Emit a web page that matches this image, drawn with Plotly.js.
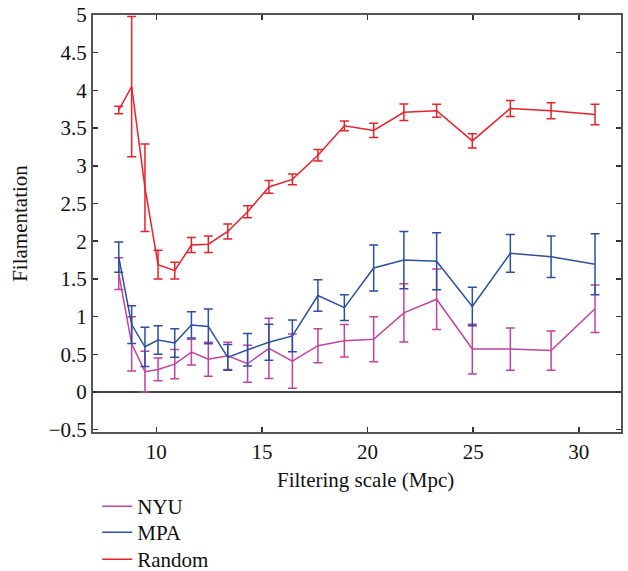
<!DOCTYPE html>
<html>
<head>
<meta charset="utf-8">
<script src="https://cdn.plot.ly/plotly-3.0.1.min.js"></script>
<style>html,body{margin:0;padding:0;background:#fff;}#chart{width:628px;height:571px;}</style>
</head>
<body>
<div id="chart"></div>
<script>
// Filtering scale (Mpc)
const scale = [8.22, 8.83, 9.46, 10.08, 10.87, 11.66, 12.46, 13.38, 14.32, 15.33, 16.44, 17.65, 18.90, 20.29, 21.72, 23.27, 24.96, 26.76, 28.69, 30.77];

const nyuValues = [1.57, 0.64, 0.27, 0.30, 0.37, 0.53, 0.435, 0.48, 0.375, 0.58, 0.41, 0.615, 0.68, 0.70, 1.05, 1.23, 0.57, 0.57, 0.55, 1.105];
const nyuErrors = [0.21, 0.36, 0.27, 0.15, 0.195, 0.17, 0.225, 0.18, 0.245, 0.40, 0.36, 0.225, 0.215, 0.30, 0.387, 0.40, 0.33, 0.28, 0.26, 0.315];

const mpaValues = [1.79, 0.895, 0.60, 0.69, 0.65, 0.89, 0.87, 0.46, 0.56, 0.66, 0.745, 1.28, 1.12, 1.645, 1.75, 1.735, 1.135, 1.84, 1.795, 1.695];
const mpaErrors = [0.20, 0.25, 0.26, 0.19, 0.19, 0.175, 0.23, 0.17, 0.215, 0.24, 0.21, 0.21, 0.17, 0.305, 0.38, 0.377, 0.255, 0.25, 0.275, 0.405];

const randomValues = [3.74, 4.05, 2.71, 1.69, 1.61, 1.95, 1.96, 2.13, 2.39, 2.72, 2.82, 3.14, 3.53, 3.47, 3.71, 3.73, 3.33, 3.76, 3.73, 3.68];
const randomErrors = [0.05, 0.93, 0.58, 0.19, 0.11, 0.10, 0.11, 0.10, 0.08, 0.085, 0.07, 0.075, 0.065, 0.095, 0.11, 0.085, 0.095, 0.105, 0.105, 0.135];

const seriesNames = ["NYU", "MPA", "Random"];
const colors = ["#c2429f", "#2b4ea6", "#ea2129"];
const legendIds = ["legend", "legend2", "legend3"];
const legendY = [-0.1295, -0.1918, -0.2566];

const allValues = [nyuValues, mpaValues, randomValues];
const allErrors = [nyuErrors, mpaErrors, randomErrors];

const traces = seriesNames.map((name, i) => ({
  type: "scatter",
  mode: "lines",
  name: name,
  legend: legendIds[i],
  x: scale,
  y: allValues[i],
  line: {color: colors[i], width: 1.5},
  error_y: {type: "data", array: allErrors[i], visible: true, color: colors[i], thickness: 1.5, width: 4.5}
}));

const font = "Liberation Serif, Times New Roman, serif";

function makeLegend(y) {
  return {
    x: 0.008, xanchor: "left",
    y: y, yanchor: "top",
    orientation: "v",
    font: {family: font, size: 21, color: "#111"},
    bgcolor: "rgba(0,0,0,0)",
    itemwidth: 30
  };
}

const layout = {
  width: 628,
  height: 571,
  margin: {l: 93, r: 7, t: 15, b: 139, autoexpand: false},
  paper_bgcolor: "#fff",
  plot_bgcolor: "#fff",
  font: {family: font, size: 21, color: "#111"},
  showlegend: true,
  legend: makeLegend(legendY[0]),
  legend2: makeLegend(legendY[1]),
  legend3: makeLegend(legendY[2]),
  annotations: [{
    text: "Filtering scale (Mpc)",
    xref: "paper", yref: "paper",
    x: 0.517, y: -0.115,
    xanchor: "center", yanchor: "middle",
    showarrow: false,
    font: {family: font, size: 21, color: "#111"}
  }],
  xaxis: {
    range: [7, 32],
    tickvals: [10, 15, 20, 25, 30],
    ticks: "inside",
    ticklen: 5,
    tickwidth: 1.5,
    tickcolor: "#333",
    showline: true,
    linecolor: "#555",
    linewidth: 2,
    mirror: "ticks",
    showgrid: false,
    zeroline: false,
    tickfont: {family: font, size: 21}
  },
  yaxis: {
    range: [-0.53, 5],
    tickvals: [-0.5, 0, 0.5, 1, 1.5, 2, 2.5, 3, 3.5, 4, 4.5, 5],
    ticktext: ["\u22120.5", "0", "0.5", "1", "1.5", "2", "2.5", "3", "3.5", "4", "4.5", "5"],
    ticks: "inside",
    ticklen: 5,
    tickwidth: 1.5,
    tickcolor: "#333",
    showline: true,
    linecolor: "#555",
    linewidth: 2,
    mirror: "ticks",
    showgrid: false,
    zeroline: true,
    zerolinecolor: "#444",
    zerolinewidth: 2,
    tickfont: {family: font, size: 21},
    title: {text: "Filamentation", font: {family: font, size: 21}, standoff: 15}
  }
};

Plotly.newPlot("chart", traces, layout, {displayModeBar: false, staticPlot: true});
</script>
</body>
</html>
